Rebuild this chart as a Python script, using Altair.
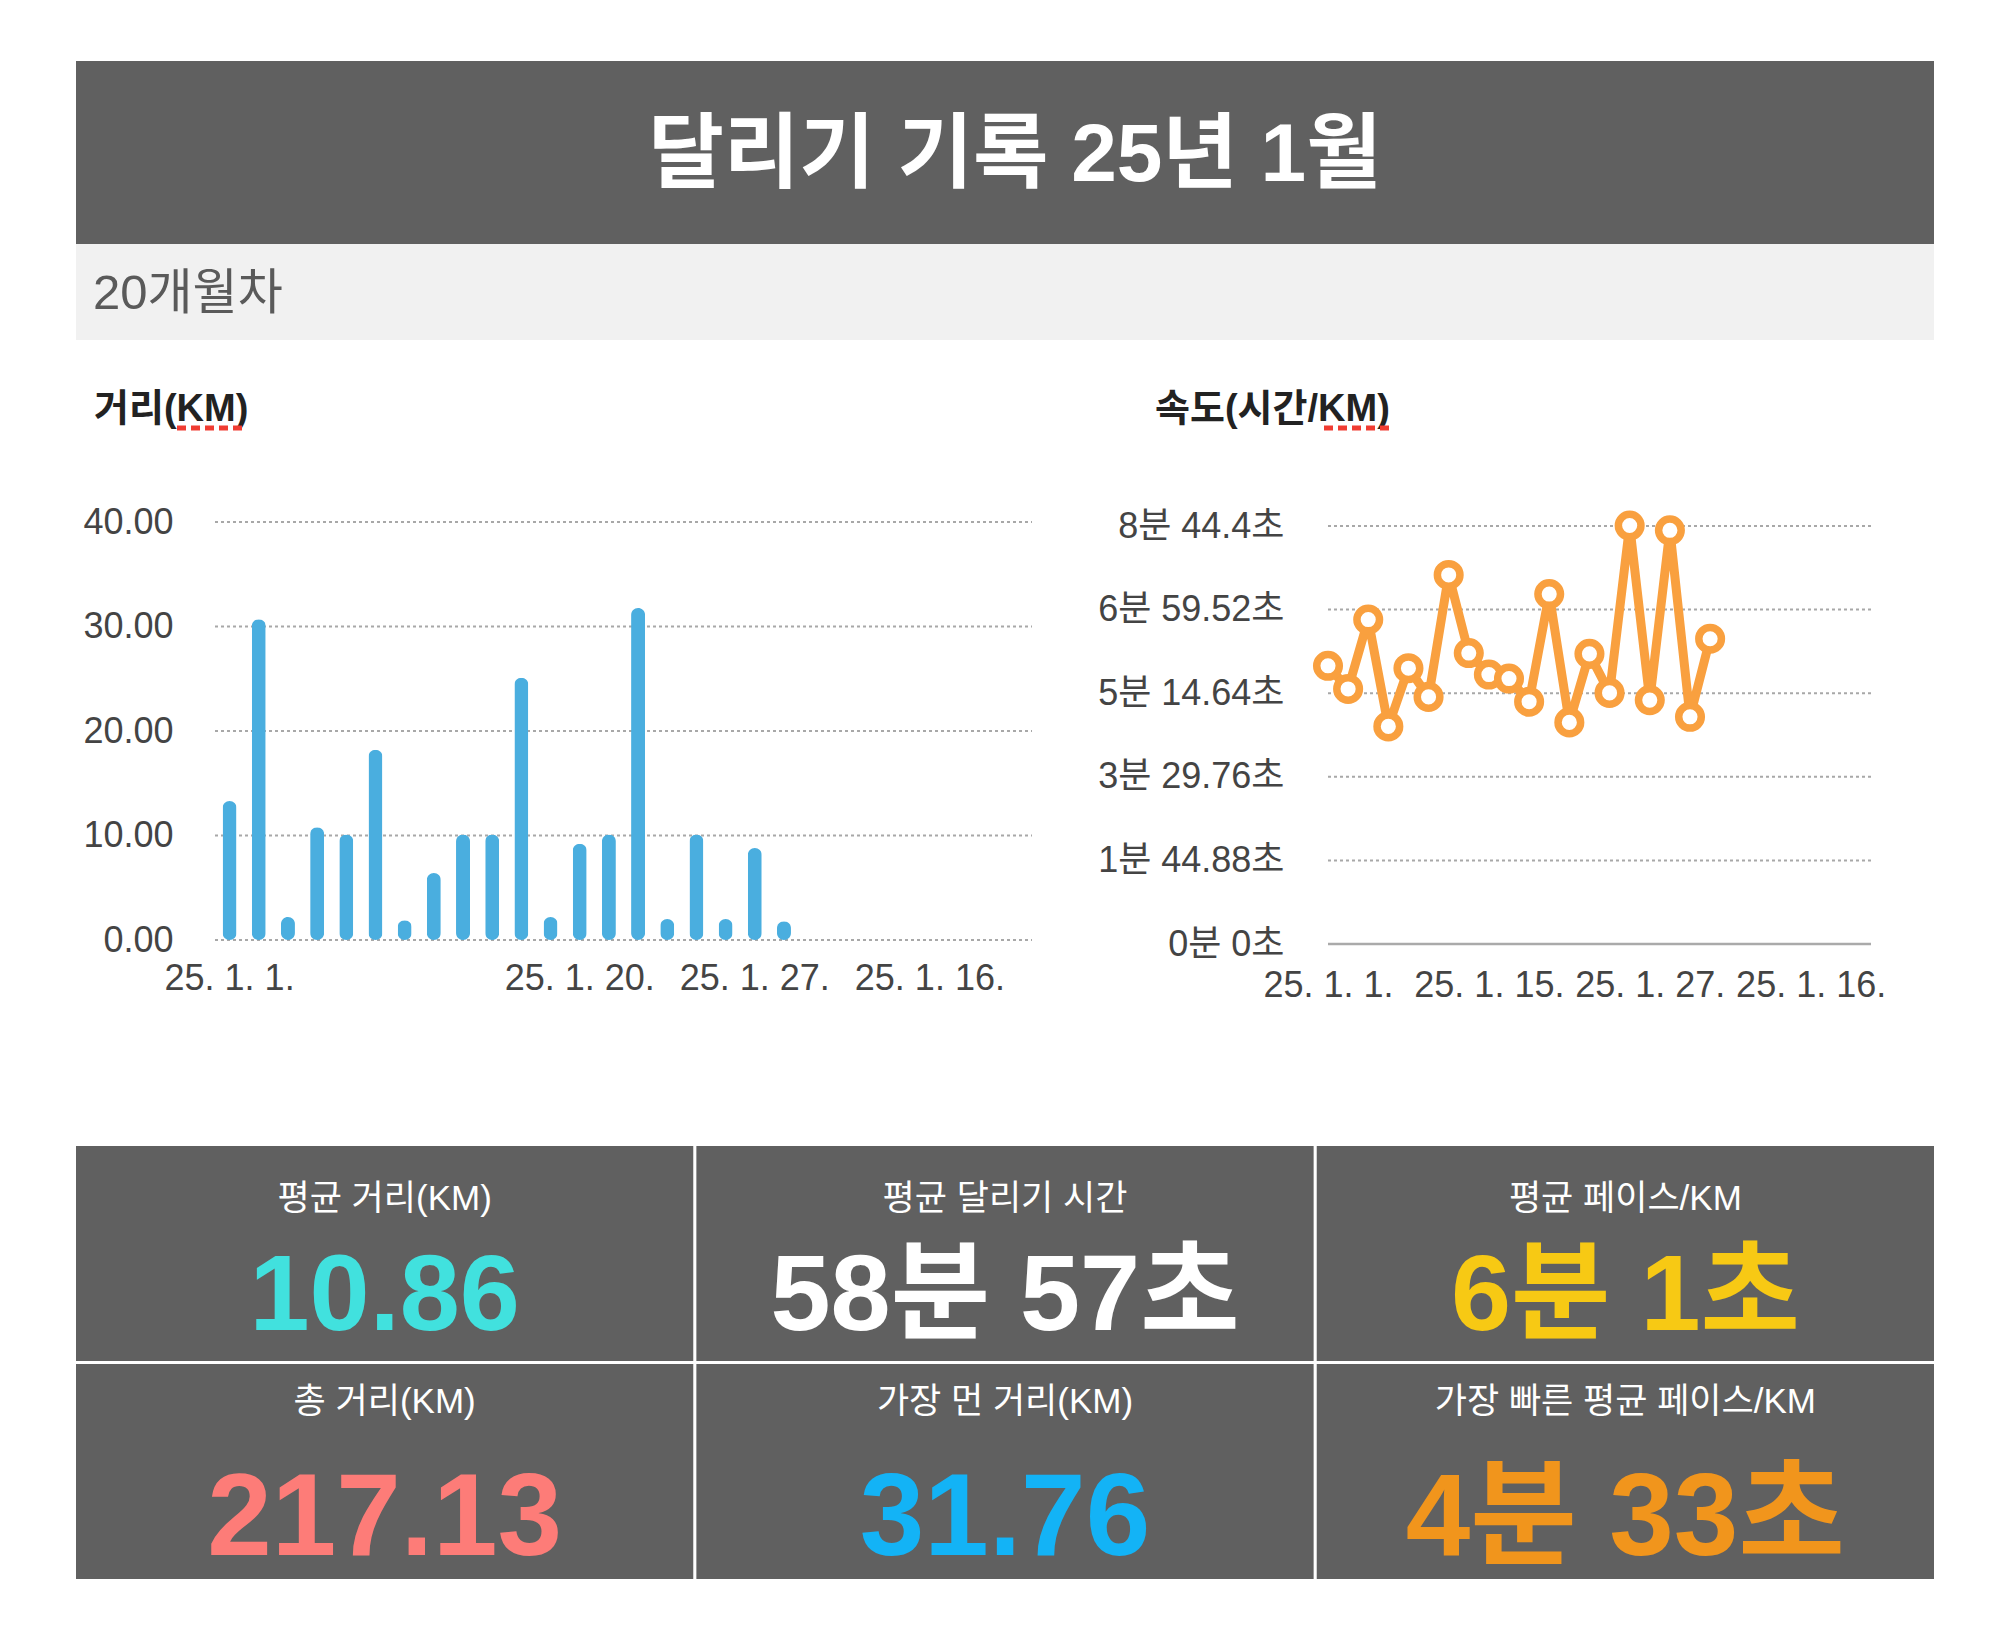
import json
import altair as alt
import pandas as pd

FONT = "Liberation Sans, Noto Sans CJK KR, sans-serif"

# ---------------- texts ----------------
title_text = "달리기 기록 25년 1월"
subtitle_text = "20개월차"
dist_title = "거리(KM)"
pace_title = "속도(시간/KM)"

# ---------------- run data ----------------
run_no = list(range(1, 21))
distance_km = [13.3, 30.7, 2.2, 10.8, 10.1, 18.2, 1.9, 6.4, 10.1, 10.1,
               25.1, 2.2, 9.2, 10.1, 31.76, 2.0, 10.1, 2.0, 8.8, 1.8]
pace_sec = [349, 320, 407, 273, 346, 310, 463, 365, 338, 333,
            304, 439, 278, 364, 315, 525, 306, 519, 285, 383]
slot_domain = list(range(1, 29))

# distance axis
dist_ticks = [0, 10, 20, 30, 40]
dist_label_slots = [1, 13, 19, 25]
dist_label_texts = ["25. 1. 1.", "25. 1. 20.", "25. 1. 27.", "25. 1. 16."]

# pace axis
pace_ticks = [0, 104.88, 209.76, 314.64, 419.52, 524.4]
pace_tick_labels = ["0분 0초", "1분 44.88초", "3분 29.76초",
                    "5분 14.64초", "6분 59.52초", "8분 44.4초"]
pace_label_slots = [1, 9, 17, 25]
pace_label_texts = ["25. 1. 1.", "25. 1. 15.", "25. 1. 27.", "25. 1. 16."]

# summary tiles
stat_labels = ["평균 거리(KM)", "평균 달리기 시간", "평균 페이스/KM",
               "총 거리(KM)", "가장 먼 거리(KM)", "가장 빠른 평균 페이스/KM"]
stat_values = ["10.86", "58분 57초", "6분 1초", "217.13", "31.76", "4분 33초"]
stat_colors = ["#41e1de", "#ffffff", "#f7c914", "#fd7c78", "#13b3f6", "#f1951c"]

# ---------------- layout / style ----------------
PAGE_W, PAGE_H = 2008, 1634
BAND_L, BAND_R = 76, 1934
TITLE_Y0, TITLE_Y1, SUB_Y1 = 61, 244, 340
BAR_X0, BAR_X1, BAR_Y0, BAR_Y1 = 215, 1032, 940, 522
LINE_X0, LINE_X1, LINE_Y0, LINE_Y1 = 1328, 1871, 944, 526
STAT_Y0, STAT_Y1 = 1146, 1579
DARK = "#606060"
BLUE = "#4aaedf"
ORANGE = "#f9a03f"
GRID = "#a8a8a8"
LABEL = "#444444"

one = pd.DataFrame({"k": [0]})
runs = pd.DataFrame({"run": run_no, "km": distance_km, "pace": pace_sec})
stats = pd.DataFrame({"label": stat_labels, "value": stat_values})
stats["col"] = stats.index % 3
stats["row"] = stats.index // 3


def lexpr(keys, texts):
    return f"{json.dumps(texts, ensure_ascii=False)}[indexof({json.dumps(keys)}, datum.value)]"


def axis_common(**kw):
    base = dict(domain=False, ticks=False, tickSize=0, grid=False, title=None,
                labelFont=FONT, labelFontSize=36, labelColor=LABEL, labelLimit=0,
                labelOverlap=False, labelAngle=0)
    base.update(kw)
    return alt.Axis(**base)


def box(x0, x1, y0, y1, color):
    return alt.Chart(one).mark_rect(color=color).encode(
        x=alt.value(x0), x2=alt.value(x1), y=alt.value(y0), y2=alt.value(y1))


def label(txt, x, y, size, color, weight="normal", align="left"):
    return alt.Chart(one).mark_text(font=FONT, fontSize=size, color=color, fontWeight=weight,
                                    align=align, baseline="middle").encode(
        x=alt.value(x), y=alt.value(y), text=alt.value(txt))


def squiggle(x0, x1, y):
    return alt.Chart(one).mark_rule(color="#f03c32", strokeWidth=5, strokeDash=[9, 5]).encode(
        x=alt.value(x0), x2=alt.value(x1), y=alt.value(y))


# header
header = [
    box(BAND_L, BAND_R, TITLE_Y0, TITLE_Y1, DARK),
    label(title_text, 1015, 156, 82, "white", "bold", "center"),
    box(BAND_L, BAND_R, TITLE_Y1, SUB_Y1, "#f1f1f1"),
    label(subtitle_text, 93, 294, 49, "#5a5a5a"),
    label(dist_title, 94, 410, 38, "#222222", "bold"),
    squiggle(177, 246, 428),
    label(pace_title, 1155, 410, 38, "#222222", "bold"),
    squiggle(1324, 1392, 428),
]

# distance bars
x_bar = alt.Scale(type="band", domain=slot_domain, range=[BAR_X0, BAR_X1],
                  paddingInner=0, paddingOuter=0)
y_bar = alt.Scale(domain=[0, 40], range=[BAR_Y0, BAR_Y1], nice=False)

bar_grid = alt.Chart(pd.DataFrame({"v": dist_ticks})).mark_rule(
    strokeDash=[3, 3], color=GRID, strokeWidth=2).encode(
    y=alt.Y("v:Q", scale=y_bar, axis=None),
    x=alt.value(BAR_X0), x2=alt.value(BAR_X1))

bars = alt.Chart(runs).mark_bar(width=14, cornerRadius=7, color=BLUE).encode(
    x=alt.X("run:O", scale=x_bar,
            axis=axis_common(orient="bottom", offset=BAR_Y0 - PAGE_H, labelPadding=21,
                             values=dist_label_slots,
                             labelExpr=lexpr(dist_label_slots, dist_label_texts))),
    y=alt.Y("km:Q", scale=y_bar,
            axis=axis_common(orient="left", offset=-BAR_X0, labelPadding=42,
                             values=dist_ticks, format=".2f")),
)

# pace line
x_line = alt.Scale(type="point", domain=slot_domain, range=[LINE_X0, LINE_X1], padding=0)
y_line = alt.Scale(domain=[0, 524.4], range=[LINE_Y0, LINE_Y1], nice=False)

line_grid = alt.Chart(pd.DataFrame({"v": pace_ticks[1:]})).mark_rule(
    strokeDash=[3, 3], color=GRID, strokeWidth=2).encode(
    y=alt.Y("v:Q", scale=y_line, axis=None),
    x=alt.value(LINE_X0), x2=alt.value(LINE_X1))

line_base = alt.Chart(pd.DataFrame({"v": pace_ticks[:1]})).mark_rule(
    color="#aaaaaa", strokeWidth=2.5).encode(
    y=alt.Y("v:Q", scale=y_line, axis=None),
    x=alt.value(LINE_X0), x2=alt.value(LINE_X1))

pace_line = alt.Chart(runs).mark_line(color=ORANGE, strokeWidth=9, strokeJoin="round").encode(
    x=alt.X("run:O", scale=x_line,
            axis=axis_common(orient="bottom", offset=LINE_Y0 - PAGE_H, labelPadding=24,
                             values=pace_label_slots,
                             labelExpr=lexpr(pace_label_slots, pace_label_texts))),
    y=alt.Y("pace:Q", scale=y_line,
            axis=axis_common(orient="left", offset=-LINE_X0, labelPadding=44,
                             values=pace_ticks,
                             labelExpr=lexpr(pace_ticks, pace_tick_labels))),
)

pace_pts = alt.Chart(runs).mark_point(shape="circle", filled=True, fill="white", stroke=ORANGE,
                                      strokeWidth=7.5, size=510, opacity=1).encode(
    x=alt.X("run:O", scale=x_line, axis=None),
    y=alt.Y("pace:Q", scale=y_line, axis=None),
)

# summary tiles
x_stat = alt.Scale(type="band", domain=[0, 1, 2], range=[BAND_L, BAND_R],
                   paddingInner=0.005, paddingOuter=0)
y_stat = alt.Scale(type="band", domain=[0, 1], range=[STAT_Y0, STAT_Y1],
                   paddingInner=0.014, paddingOuter=0)
stat_color = alt.Color("label:N", scale=alt.Scale(domain=stat_labels, range=stat_colors),
                       legend=None)

tiles = alt.Chart(stats).mark_rect(color=DARK).encode(
    x=alt.X("col:O", scale=x_stat, axis=None),
    y=alt.Y("row:O", scale=y_stat, axis=None))


def stat_text(row, field, dy, size, weight, colored):
    enc = dict(x=alt.X("col:O", scale=x_stat, axis=None),
               y=alt.Y("row:O", scale=y_stat, axis=None),
               text=alt.Text(f"{field}:N"))
    if colored:
        enc["color"] = stat_color
    mk = dict(font=FONT, fontSize=size, fontWeight=weight, dy=dy,
              align="center", baseline="middle")
    if not colored:
        mk["color"] = "white"
    return alt.Chart(stats).transform_filter(f"datum.row == {row}").mark_text(**mk).encode(**enc)


stat_layers = [
    tiles,
    stat_text(0, "label", -54, 35, "normal", False),
    stat_text(0, "value", 45, 108, "bold", True),
    stat_text(1, "label", -70, 35, "normal", False),
    stat_text(1, "value", 48, 116, "bold", True),
]

chart = alt.layer(
    *header, bar_grid, bars, line_grid, line_base, pace_line, pace_pts, *stat_layers
).resolve_scale(x="independent", y="independent", color="independent").properties(
    width=PAGE_W, height=PAGE_H, padding=0,
    autosize=alt.AutoSizeParams(type="none"), background="white",
).configure_view(stroke=None)

chart.save("out.html", embed_options={"renderer": "svg", "actions": False})
